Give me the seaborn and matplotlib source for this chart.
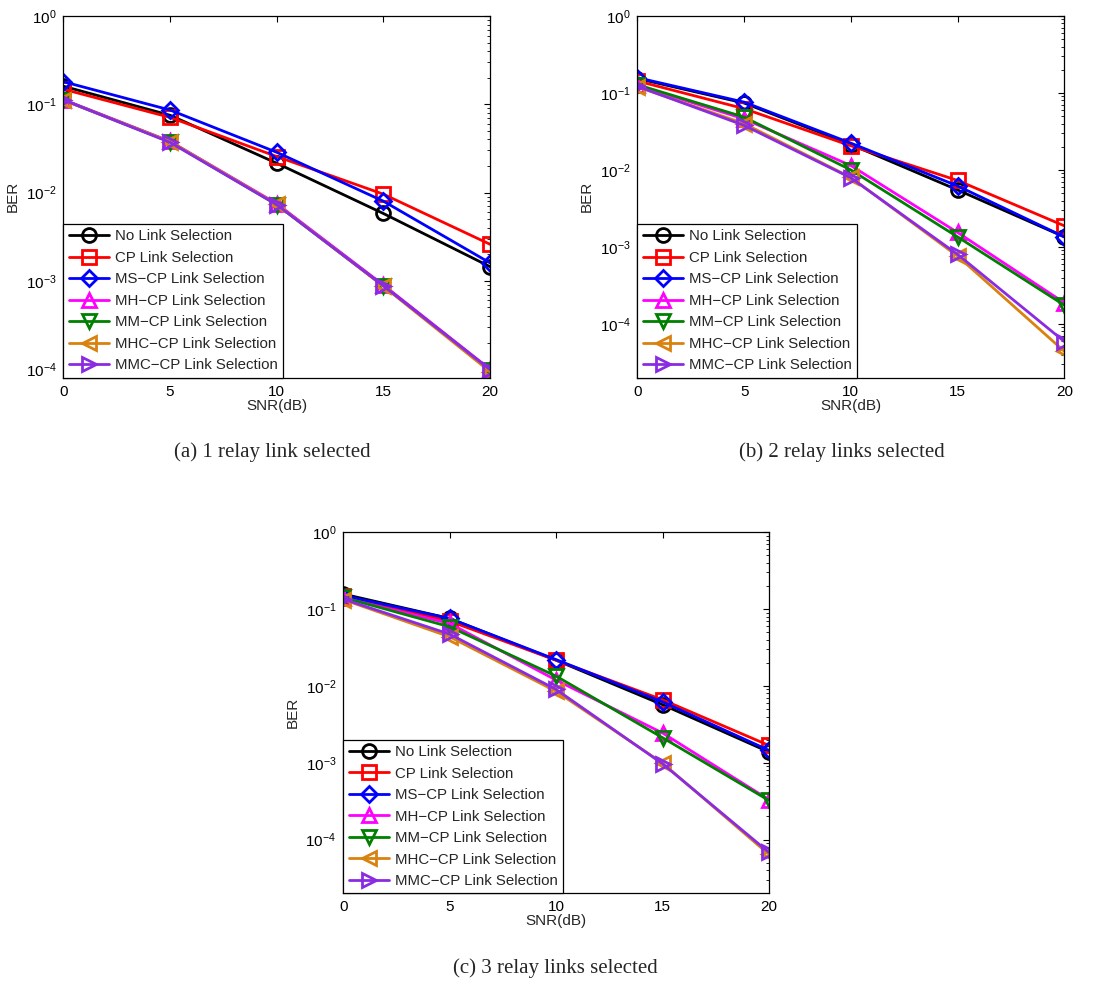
import numpy as np
import pandas as pd
import matplotlib
matplotlib.use("Agg")
import matplotlib.pyplot as plt
import matplotlib.ticker as mticker
import seaborn as sns

snr = [0, 5, 10, 15, 20]
names = ["No Link Selection", "CP Link Selection", "MS\u2212CP Link Selection",
         "MH\u2212CP Link Selection", "MM\u2212CP Link Selection",
         "MHC\u2212CP Link Selection", "MMC\u2212CP Link Selection"]
colors = ["#000000", "#ff0000", "#0000ff", "#ff00ff", "#008000", "#d9820f", "#8a2be2"]
markers = ["o", "s", "D", "^", "v", "<", ">"]

# (a) 1 relay link selected
a_none = [0.160, 0.075, 0.0215, 0.0058, 0.00145]
a_cp = [0.148, 0.071, 0.0256, 0.0096, 0.0026]
a_ms = [0.180, 0.086, 0.0286, 0.0080, 0.00160]
a_mh = [0.113, 0.0380, 0.0075, 0.00090, 0.000100]
a_mm = [0.112, 0.0375, 0.0073, 0.00088, 0.000098]
a_mhc = [0.111, 0.0378, 0.0074, 0.00087, 0.000094]
a_mmc = [0.112, 0.0370, 0.0073, 0.00088, 0.000099]

# (b) 2 relay links selected
b_none = [0.154, 0.074, 0.0214, 0.0055, 0.00135]
b_cp = [0.143, 0.0625, 0.0206, 0.0073, 0.00188]
b_ms = [0.158, 0.076, 0.0223, 0.0062, 0.00135]
b_mh = [0.125, 0.046, 0.0114, 0.00154, 0.000188]
b_mm = [0.128, 0.0486, 0.0100, 0.00135, 0.000175]
b_mhc = [0.120, 0.040, 0.0080, 0.00076, 0.000044]
b_mmc = [0.122, 0.0379, 0.0079, 0.00080, 0.000059]

# (c) 3 relay links selected
c_none = [0.157, 0.0755, 0.0216, 0.0057, 0.00138]
c_cp = [0.148, 0.0697, 0.0216, 0.0066, 0.00168]
c_ms = [0.150, 0.0755, 0.0220, 0.0062, 0.00145]
c_mh = [0.140, 0.065, 0.0119, 0.00244, 0.00033]
c_mm = [0.142, 0.0588, 0.0134, 0.00212, 0.000323]
c_mhc = [0.133, 0.0436, 0.0085, 0.00099, 0.000064]
c_mmc = [0.135, 0.0472, 0.0090, 0.00097, 0.000068]

panels = [
    ([a_none, a_cp, a_ms, a_mh, a_mm, a_mhc, a_mmc], "(a) 1 relay link selected", 8e-5),
    ([b_none, b_cp, b_ms, b_mh, b_mm, b_mhc, b_mmc], "(b) 2 relay links selected", 2e-5),
    ([c_none, c_cp, c_ms, c_mh, c_mm, c_mhc, c_mmc], "(c) 3 relay links selected", 2e-5),
]

sns.set_style("white")
plt.rcParams["font.family"] = ["Liberation Sans", "DejaVu Sans"]
plt.rcParams["mathtext.fontset"] = "custom"
plt.rcParams["mathtext.rm"] = "Liberation Sans"
plt.rcParams["mathtext.default"] = "regular"

fig = plt.figure(figsize=(11, 9.85), dpi=100)
rects = [
    [0.0577, 0.6165, 0.3877, 0.3673],
    [0.5794, 0.6165, 0.3882, 0.3673],
    [0.3121, 0.0931, 0.3870, 0.3665],
]
caption_pos = [(272 / 1100, 1 - 452 / 985), (842 / 1100, 1 - 452 / 985), (555 / 1100, 1 - 968 / 985)]

for (series, caption, ymin), rect, cpos in zip(panels, rects, caption_pos):
    ax = fig.add_axes(rect)
    for vals, name, col, mk in zip(series, names, colors, markers):
        df = pd.DataFrame({"SNR": snr, "BER": vals})
        sns.lineplot(data=df, x="SNR", y="BER", ax=ax, color=col, marker=mk,
                     markersize=8.5 if mk == "D" else 10, mfc="none", mec=col, mew=2.0,
                     lw=2.0, label=name, estimator=None, sort=False)
    ax.set_yscale("log")
    ax.set_ylim(ymin, 1)
    ax.set_xlim(0, 20)
    ax.set_xticks(snr)
    ax.yaxis.set_major_locator(mticker.LogLocator(base=10, numticks=10))
    ax.yaxis.set_minor_locator(mticker.LogLocator(base=10, subs=np.arange(2, 10), numticks=20))
    ax.yaxis.set_minor_formatter(mticker.NullFormatter())
    ax.tick_params(which="both", direction="in", top=True, right=True, labelsize=11,
                   colors="black")
    ax.tick_params(which="major", length=4, width=0.8, pad=5)
    ax.tick_params(which="minor", length=2.5, width=0.6)
    for sp in ax.spines.values():
        sp.set_color("black")
        sp.set_linewidth(0.9)
    ax.set_xlabel("SNR(dB)", fontsize=11, labelpad=0)
    ax.set_ylabel("BER", fontsize=11, labelpad=4)
    leg = ax.legend(loc="lower left", borderaxespad=0, fontsize=10.8, handlelength=2.7,
                    labelspacing=0.5, handletextpad=0.4, borderpad=0.35,
                    fancybox=False, framealpha=1, edgecolor="black")
    leg.get_frame().set_linewidth(0.9)
    fig.text(cpos[0], cpos[1], caption, ha="center", va="center", fontsize=15,
             family=["Liberation Serif", "DejaVu Serif"])

fig.savefig("out.png", dpi=100)
